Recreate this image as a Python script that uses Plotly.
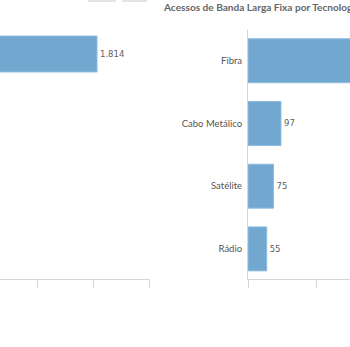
import plotly.graph_objects as go

# Data
left_categories = ["Total"]
left_values = [1814]
left_labels = ["1.814"]

tech_categories = ["Fibra", "Cabo Metálico", "Satélite", "Rádio"]
tech_values = [1587, 97, 75, 55]
tech_labels = ["1.587", "97", "75", "55"]

title_text = "Acessos de Banda Larga Fixa por Tecnologia"

W, H = 350, 347
BAR = "#72a7cf"
GRID = "#d6d6d6"
TXT = "#555555"

def fx(px):
    return px / W

def fy(py):
    return 1 - py / H

fig = go.Figure()

# Left panel
fig.add_trace(go.Bar(
    x=left_values, y=left_categories, orientation="h",
    marker=dict(color=BAR, line=dict(color="#8bbbe0", width=1)),
    width=0.57, text=left_labels, textposition="outside",
    textfont=dict(size=8.5, color="#606060", family="DejaVu Sans"),
    cliponaxis=False, xaxis="x", yaxis="y", showlegend=False,
))

# Right panel
fig.add_trace(go.Bar(
    x=tech_values, y=tech_categories, orientation="h",
    marker=dict(color=BAR, line=dict(color="#8bbbe0", width=1)),
    width=0.7, text=tech_labels, textposition="outside",
    textfont=dict(size=8.5, color="#606060", family="DejaVu Sans"),
    cliponaxis=True, xaxis="x2", yaxis="y2", showlegend=False,
))

# left x scale: 0.056 px/unit, bar end at px 97
lscale = 0.056
lstart = left_values[0] - 97 / lscale
lend = lstart + 150 / lscale
ltick0 = lstart + 37 / lscale

rscale = 0.34
rend = (W - 248) / rscale

fig.update_layout(
    width=W, height=H,
    margin=dict(l=0, r=0, t=0, b=0),
    paper_bgcolor="white", plot_bgcolor="white",
    bargap=0.3,
    xaxis=dict(domain=[0, fx(150)], range=[lstart, lend], anchor="y",
               showgrid=False, zeroline=False, showline=True, linecolor=GRID, linewidth=1,
               ticks="outside", ticklen=8, tickcolor=GRID, tick0=ltick0, dtick=1000,
               showticklabels=False),
    yaxis=dict(domain=[fy(279), fy(30)], range=[-3.571, 0.381], anchor="x",
               showgrid=False, zeroline=False, showline=False, showticklabels=False,
               type="category"),
    xaxis2=dict(domain=[fx(248), 1], range=[0, rend], anchor="y2",
                showgrid=False, zeroline=False, showline=True, linecolor=GRID, linewidth=1,
                ticks="outside", ticklen=8, tickcolor=GRID, tick0=0, dtick=200,
                showticklabels=False),
    yaxis2=dict(domain=[fy(279), fy(30)], range=[3.48, -0.49], anchor="x2",
                showgrid=False, zeroline=False, showline=True, linecolor=GRID, linewidth=1,
                ticks="", ticklabelstandoff=3, type="category",
                tickfont=dict(size=9.5, color=TXT, family="Lato")),
    annotations=[dict(
        text="<b>" + title_text + "</b>", x=fx(161), y=fy(7), xref="paper", yref="paper",
        xanchor="left", yanchor="middle", showarrow=False,
        font=dict(size=10.1, color="#666666", family="Lato"),
    )],
    shapes=[
        dict(type="rect", xref="paper", yref="paper", x0=fx(88), x1=fx(116), y0=fy(2), y1=1,
             fillcolor="#e4e4e4", line=dict(width=0)),
        dict(type="rect", xref="paper", yref="paper", x0=fx(122), x1=fx(147), y0=fy(2), y1=1,
             fillcolor="#e4e4e4", line=dict(width=0)),
    ],
)

fig.write_html("out.html")
